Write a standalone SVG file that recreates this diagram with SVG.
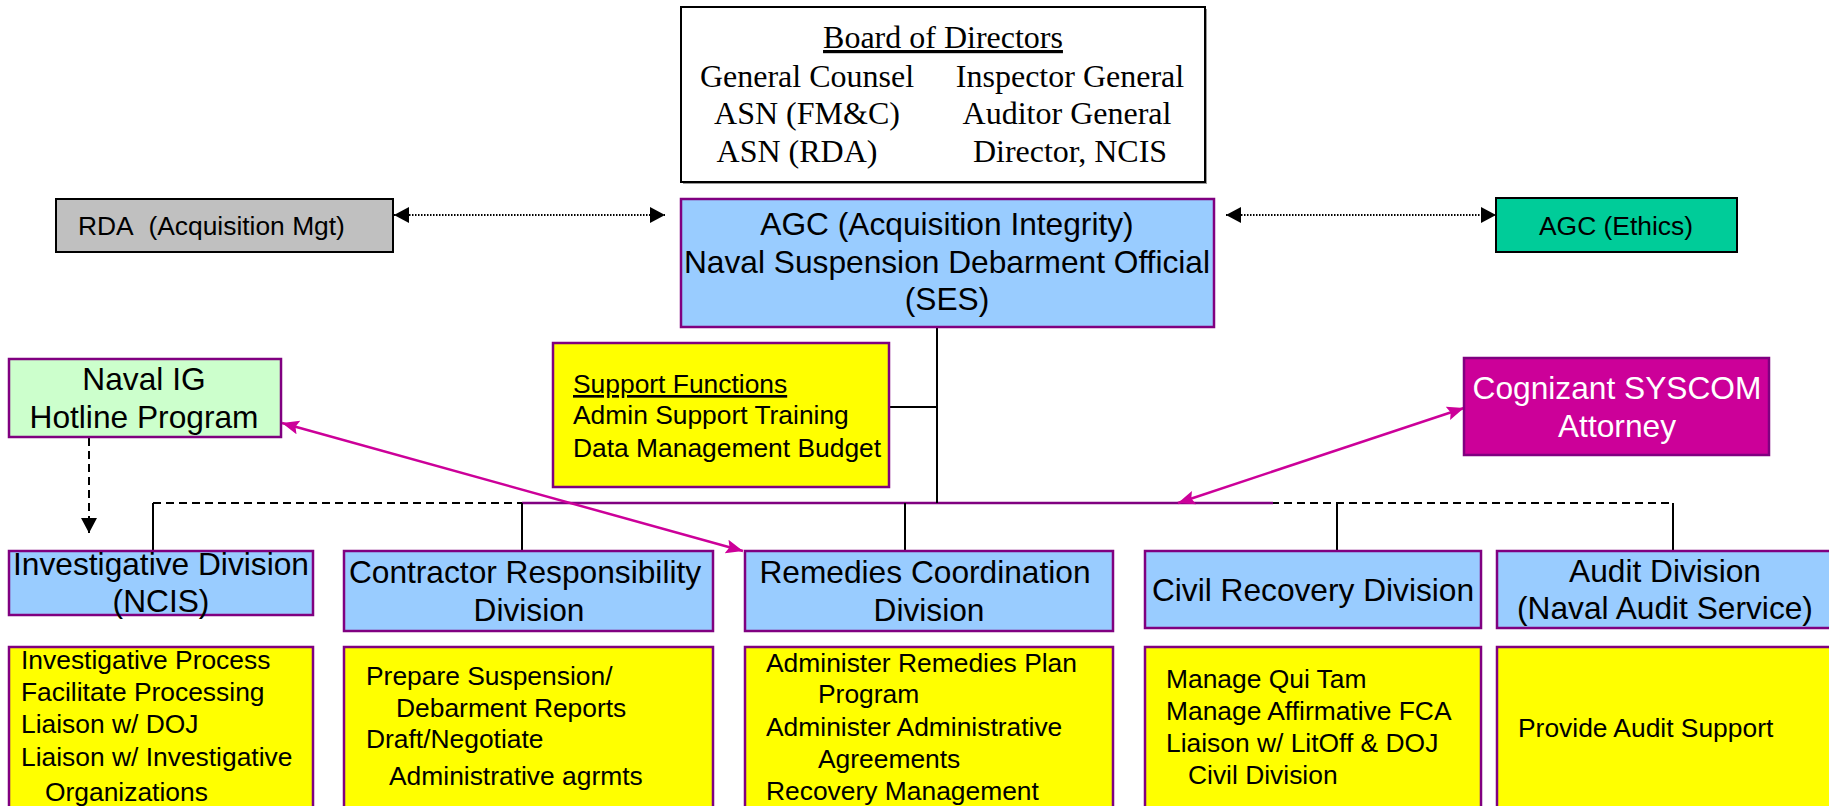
<svg xmlns="http://www.w3.org/2000/svg" width="1829" height="806" viewBox="0 0 1829 806">
<style>
.box{stroke:#800080;stroke-width:2.5}
.blk{stroke:#000;stroke-width:2}
.blue{fill:#99CCFF}
.yel{fill:#FFFF00}
.serif{font-family:"Liberation Serif","Times New Roman",serif;font-size:32px;fill:#000}
.big{font-family:"Liberation Sans",Arial,sans-serif;font-size:31.7px;fill:#000}
.sm{font-family:"Liberation Sans",Arial,sans-serif;font-size:26.4px;fill:#000}
.c{text-anchor:middle}
.solid{stroke:#000;stroke-width:2;fill:none}
.dash{stroke:#000;stroke-width:2;fill:none;stroke-dasharray:8 5}
.dot{stroke:#000;stroke-width:2;fill:none;stroke-dasharray:1.5 1.5}
.mag{stroke:#CC0099;stroke-width:2.5;fill:none}
</style>
<defs>
<marker id="ab" markerUnits="userSpaceOnUse" markerWidth="16" markerHeight="16" refX="15" refY="8" orient="auto-start-reverse">
<path d="M0,0 L15,8 L0,16 z" fill="#000"/>
</marker>
<marker id="am" markerUnits="userSpaceOnUse" markerWidth="18" markerHeight="16" refX="17" refY="7" orient="auto-start-reverse">
<path d="M0,0 L17,7 L0,14 L3,7 z" fill="#CC0099"/>
</marker>
</defs>
<rect width="1829" height="806" fill="#fff"/>

<g id="connectors">
<line class="dash" x1="153" y1="503" x2="1673" y2="503"/>
<line x1="522" y1="503" x2="1273" y2="503" stroke="#800080" stroke-width="2.5"/>
<line class="solid" x1="937" y1="327" x2="937" y2="503"/>
<line class="solid" x1="889" y1="407" x2="937" y2="407"/>
<line class="solid" x1="153" y1="503" x2="153" y2="551"/>
<line class="solid" x1="522" y1="503" x2="522" y2="551"/>
<line class="solid" x1="905" y1="503" x2="905" y2="551"/>
<line class="solid" x1="1337" y1="503" x2="1337" y2="551"/>
<line class="solid" x1="1673" y1="503" x2="1673" y2="551"/>
<line class="dot" x1="394" y1="215" x2="665" y2="215" marker-start="url(#ab)" marker-end="url(#ab)"/>
<line class="dot" x1="1226" y1="215" x2="1496" y2="215" marker-start="url(#ab)" marker-end="url(#ab)"/>
<line class="dash" x1="89" y1="438" x2="89" y2="533" marker-end="url(#ab)"/>
<line class="mag" x1="282" y1="423" x2="743" y2="551" marker-start="url(#am)" marker-end="url(#am)"/>
<line class="mag" x1="1464" y1="408" x2="1178" y2="503" marker-start="url(#am)" marker-end="url(#am)"/>
</g>

<g id="board">
<rect x="683" y="9" width="524" height="175" fill="#999"/>
<rect x="681" y="7" width="524" height="175" fill="#fff" class="blk"/>
<text class="serif c" x="943" y="48" text-decoration="underline">Board of Directors</text>
<text class="serif c" x="807" y="87">General Counsel</text>
<text class="serif c" x="1070" y="87">Inspector General</text>
<text class="serif c" x="807" y="124">ASN (FM&amp;C)</text>
<text class="serif c" x="1067" y="124">Auditor General</text>
<text class="serif c" x="797" y="162">ASN (RDA)</text>
<text class="serif c" x="1070" y="162">Director, NCIS</text>
</g>

<g id="agc">
<rect x="681" y="199" width="533" height="128" class="box blue"/>
<text class="big c" x="947" y="235">AGC (Acquisition Integrity)</text>
<text class="big c" x="947" y="273">Naval Suspension Debarment Official</text>
<text class="big c" x="947" y="310">(SES)</text>
</g>

<g id="rda">
<rect x="56" y="199" width="337" height="53" fill="#C0C0C0" class="blk"/>
<text class="sm" x="78" y="235">RDA&#160; (Acquisition Mgt)</text>
</g>

<g id="ethics">
<rect x="1496" y="198" width="241" height="54" fill="#00CC99" class="blk"/>
<text class="sm c" x="1616" y="235">AGC (Ethics)</text>
</g>

<g id="support">
<rect x="553" y="343" width="336" height="144" class="box yel"/>
<text class="sm" x="573" y="393" text-decoration="underline">Support Functions</text>
<text class="sm" x="573" y="424">Admin Support Training</text>
<text class="sm" x="573" y="457">Data Management Budget</text>
</g>

<g id="navalig">
<rect x="9" y="359" width="272" height="78" class="box" fill="#CCFFCC"/>
<text class="big c" x="144" y="390">Naval IG</text>
<text class="big c" x="144" y="428">Hotline Program</text>
</g>

<g id="syscom">
<rect x="1464" y="358" width="305" height="97" class="box" fill="#CC0099"/>
<text class="big c" x="1617" y="399" style="fill:#fff">Cognizant SYSCOM</text>
<text class="big c" x="1617" y="437" style="fill:#fff">Attorney</text>
</g>

<g id="inv-div">
<rect x="9" y="551" width="304" height="64" class="box blue"/>
<text class="big c" x="161" y="575">Investigative Division</text>
<text class="big c" x="161" y="612">(NCIS)</text>
</g>

<g id="con-div">
<rect x="344" y="551" width="369" height="80" class="box blue"/>
<text class="big c" x="525" y="583">Contractor Responsibility</text>
<text class="big c" x="529" y="621">Division</text>
</g>

<g id="rem-div">
<rect x="745" y="551" width="368" height="80" class="box blue"/>
<text class="big c" x="925" y="583">Remedies Coordination</text>
<text class="big c" x="929" y="621">Division</text>
</g>

<g id="civ-div">
<rect x="1145" y="551" width="336" height="77" class="box blue"/>
<text class="big c" x="1313" y="601">Civil Recovery Division</text>
</g>

<g id="aud-div">
<rect x="1497" y="551" width="345" height="77" class="box blue"/>
<text class="big c" x="1665" y="582">Audit Division</text>
<text class="big c" x="1665" y="619">(Naval Audit Service)</text>
</g>

<g id="inv-tasks">
<rect x="9" y="647" width="304" height="200" class="box yel"/>
<text class="sm" x="21" y="669">Investigative Process</text>
<text class="sm" x="21" y="701">Facilitate Processing</text>
<text class="sm" x="21" y="733">Liaison w/ DOJ</text>
<text class="sm" x="21" y="766">Liaison w/ Investigative</text>
<text class="sm" x="45" y="801">Organizations</text>
</g>

<g id="con-tasks">
<rect x="344" y="647" width="369" height="200" class="box yel"/>
<text class="sm" x="366" y="685">Prepare Suspension/</text>
<text class="sm" x="396" y="717">Debarment Reports</text>
<text class="sm" x="366" y="748">Draft/Negotiate</text>
<text class="sm" x="389" y="785">Administrative agrmts</text>
</g>

<g id="rem-tasks">
<rect x="745" y="647" width="368" height="200" class="box yel"/>
<text class="sm" x="766" y="672">Administer Remedies Plan</text>
<text class="sm" x="818" y="703">Program</text>
<text class="sm" x="766" y="736">Administer Administrative</text>
<text class="sm" x="818" y="768">Agreements</text>
<text class="sm" x="766" y="800">Recovery Management</text>
</g>

<g id="civ-tasks">
<rect x="1145" y="647" width="336" height="200" class="box yel"/>
<text class="sm" x="1166" y="688">Manage Qui Tam</text>
<text class="sm" x="1166" y="720">Manage Affirmative FCA</text>
<text class="sm" x="1166" y="752">Liaison w/ LitOff &amp; DOJ</text>
<text class="sm" x="1188" y="784">Civil Division</text>
</g>

<g id="aud-tasks">
<rect x="1497" y="647" width="345" height="200" class="box yel"/>
<text class="sm" x="1518" y="737">Provide Audit Support</text>
</g>
</svg>
